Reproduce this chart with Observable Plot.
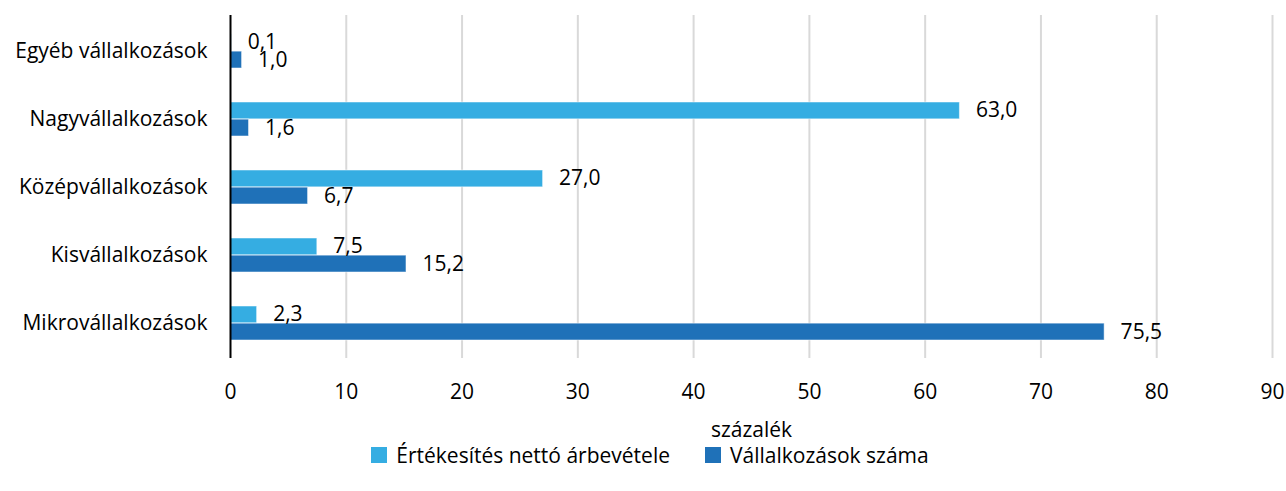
<!DOCTYPE html>
<html>
<head>
<meta charset="utf-8">
<script src="https://cdn.jsdelivr.net/npm/d3@7"></script>
<script src="https://cdn.jsdelivr.net/npm/@observablehq/plot@0.6"></script>
<style>
  body { margin: 0; background: #fff; font-family: "Open Sans", sans-serif; }
  #chart svg { display: block; }
  .legend { display: flex; justify-content: center; align-items: center; gap: 35px; font-size: 21px; color: #000; margin-top: -9px; padding-left: 14px; line-height: 28px; }
  .legend .item { display: flex; align-items: center; gap: 9px; }
  .legend .sw { width: 16px; height: 16px; display: inline-block; }
</style>
</head>
<body>
<div id="chart"></div>
<script>
const categories = ["Egyéb vállalkozások", "Nagyvállalkozások", "Középvállalkozások", "Kisvállalkozások", "Mikrovállalkozások"];
const seriesNames = ["Értékesítés nettó árbevétele", "Vállalkozások száma"];
const arbevetel = [0.1, 63.0, 27.0, 7.5, 2.3];
const szama = [1.0, 1.6, 6.7, 15.2, 75.5];
const xTicks = [0, 10, 20, 30, 40, 50, 60, 70, 80, 90];
const xTitle = "százalék";
const colors = ["#35ade2", "#1f71b8"];

const fmt = v => v.toFixed(1).replace(".", ",");
const dataA = categories.map((c, i) => ({category: c, value: arbevetel[i]}));
const dataB = categories.map((c, i) => ({category: c, value: szama[i]}));

const W = 1286, H = 450;
const half = (343 / 5) * 0.5 / 2;

const chart = Plot.plot({
  width: W,
  height: H,
  marginLeft: 230,
  marginRight: 14,
  marginTop: 15,
  marginBottom: 92,
  style: {fontFamily: "Open Sans, sans-serif", fontSize: "21px", color: "#000", background: "#fff"},
  x: {domain: [0, 90]},
  y: {domain: categories, paddingInner: 0.5, paddingOuter: 0.25},
  marks: [
    Plot.ruleX(xTicks.filter(d => d > 0), {stroke: "#d9d9d9", strokeWidth: 2}),
    Plot.barX(dataA, {x: "value", y: "category", fill: colors[0], insetBottom: half, stroke: "#fff", strokeOpacity: 0.5, strokeWidth: 1}),
    Plot.barX(dataB, {x: "value", y: "category", fill: colors[1], insetTop: half, stroke: "#fff", strokeOpacity: 0.5, strokeWidth: 1}),
    Plot.text(dataA, {x: "value", y: "category", text: d => fmt(d.value), textAnchor: "start", dx: 16, dy: -half / 2 - 1, fill: "#000", fontSize: 21}),
    Plot.text(dataB, {x: "value", y: "category", text: d => fmt(d.value), textAnchor: "start", dx: 16, dy: half / 2, fill: "#000", fontSize: 21}),
    Plot.ruleX([0], {stroke: "#000", strokeWidth: 2}),
    Plot.axisY({tickSize: 0, tickPadding: 23, label: null, fontSize: 21}),
    Plot.axisX({ticks: xTicks, tickFormat: d => String(d), tickSize: 0, tickPadding: 26, label: null, fontSize: 21}),
    Plot.text([xTitle], {text: d => d, frameAnchor: "bottom", lineAnchor: "middle", dy: 72, fontSize: 21, fill: "#000"})
  ]
});
document.getElementById("chart").appendChild(chart);

const legend = document.createElement("div");
legend.className = "legend";
seriesNames.forEach((n, i) => {
  const item = document.createElement("span");
  item.className = "item";
  const sw = document.createElement("span");
  sw.className = "sw";
  sw.style.background = colors[i];
  const t = document.createElement("span");
  t.textContent = n;
  item.appendChild(sw);
  item.appendChild(t);
  legend.appendChild(item);
});
document.body.appendChild(legend);
</script>
</body>
</html>
